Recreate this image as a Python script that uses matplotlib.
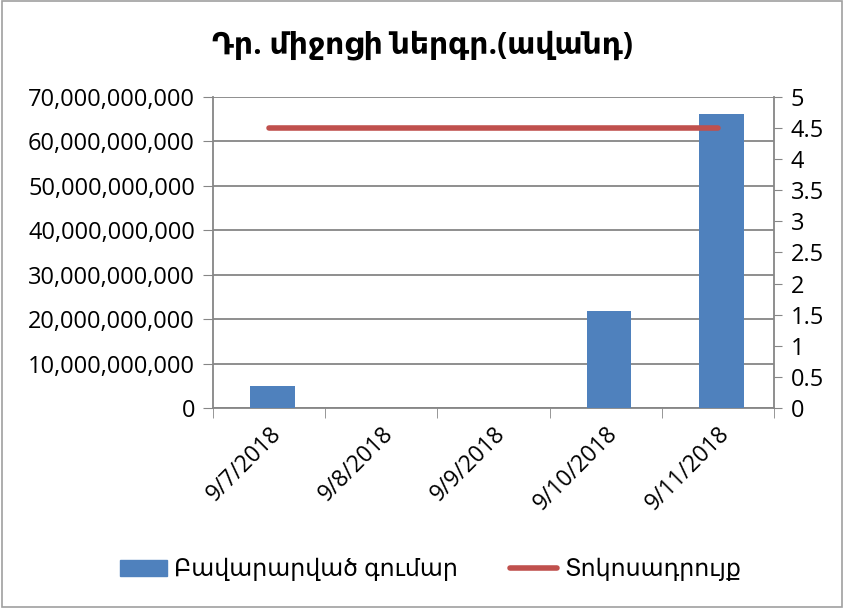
import matplotlib.pyplot as plt
from matplotlib.lines import Line2D
from matplotlib.patches import Patch
from matplotlib.ticker import FuncFormatter, MultipleLocator
import numpy as np

plt.rcParams['font.family'] = ['Open Sans', 'DejaVu Sans']

dates = ['9/7/2018', '9/8/2018', '9/9/2018', '9/10/2018', '9/11/2018']
amounts = [5.0e9, 0, 0, 21.9e9, 66.2e9]
rates = [4.5, 4.5, 4.5, 4.5, 4.5]

title = 'Դր. միջոցի ներգր.(ավանդ)'
bar_label = 'Բավարարված գումար'
line_label = 'Տոկոսադրույք'

blue = '#4f81bd'
red = '#c0504d'
grey = '#868686'

fig = plt.figure(figsize=(8.44, 6.08), dpi=100)
fig.patches.append(plt.Rectangle((0.002, 0.002), 0.996, 0.996, transform=fig.transFigure,
                                 fill=False, edgecolor='#a0a0a0', lw=1.2))

ax = fig.add_axes([0.2524, 0.329, 0.6646, 0.5115])
x = np.arange(len(dates))
ax.bar(x + 0.03, amounts, width=0.4, color=blue, zorder=3)
ax.set_xlim(-0.5, len(dates) - 0.5)
ax.set_ylim(0, 70e9)
ax.yaxis.set_major_locator(MultipleLocator(10e9))
ax.yaxis.set_major_formatter(FuncFormatter(lambda v, p: f'{int(round(v)):,}'))
ax.grid(axis='y', color=grey, lw=1.3, zorder=0)
ax.set_xticks(x)
ax.set_xticklabels(dates, rotation=45, ha='right', rotation_mode='anchor', fontsize=16.5)
ax.set_xticks(np.arange(-0.5, len(dates)), minor=True)
ax.tick_params(axis='x', which='major', length=0, pad=10)
ax.tick_params(axis='x', which='minor', length=7, color=grey)
ax.tick_params(axis='y', labelsize=17, length=7, color=grey, pad=6)
for s in ['top', 'right']:
    ax.spines[s].set_visible(False)
for s in ['left', 'bottom']:
    ax.spines[s].set_color(grey)
    ax.spines[s].set_linewidth(1.3)

ax2 = ax.twinx()
ax2.plot(x, rates, color=red, lw=4, solid_capstyle='round', zorder=4)
ax2.set_ylim(0, 5)
ax2.yaxis.set_major_locator(MultipleLocator(0.5))
ax2.yaxis.set_major_formatter(FuncFormatter(lambda v, p: f'{v:g}'))
ax2.tick_params(axis='y', labelsize=17, length=6, color=grey, pad=6)
for s in ['top', 'left', 'bottom']:
    ax2.spines[s].set_visible(False)
ax2.spines['right'].set_color(grey)
ax2.spines['right'].set_linewidth(1.3)

fig.text(0.5, 0.925, title, ha='center', va='center', fontsize=21.5, fontweight='bold')

handles = [Patch(color=blue, label=bar_label),
           Line2D([0], [0], color=red, lw=4, solid_capstyle='round', label=line_label)]
fig.legend(handles=handles, loc='center', bbox_to_anchor=(0.51, 0.062), ncol=2,
           frameon=False, fontsize=17, handlelength=2.0, handletextpad=0.3, columnspacing=2.2)

fig.savefig('out.png', dpi=100)
